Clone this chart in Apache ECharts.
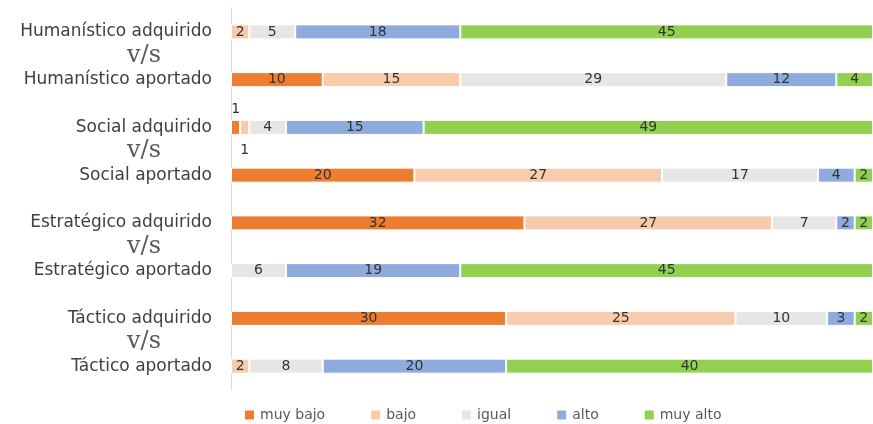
<!DOCTYPE html>
<html>
<head>
<meta charset="utf-8">
<script src="https://cdn.jsdelivr.net/npm/echarts@6/dist/echarts.min.js"></script>
<style>
html,body{margin:0;padding:0;background:#fff;}
#chart{width:873px;height:424px;}
</style>
</head>
<body>
<div id="chart"></div>
<script>
// Categories, top to bottom
var categories = [
  'Humanístico adquirido', 'Humanístico aportado',
  'Social adquirido', 'Social aportado',
  'Estratégico adquirido', 'Estratégico aportado',
  'Táctico adquirido', 'Táctico aportado'
];
// Separator labels drawn between each pair (half-step ticks)
var separatorLabels = ['', '', 'v/s', '', '', '', 'v/s', '', '', '', 'v/s', '', '', '', 'v/s', '', ''];

var seriesNames = ['muy bajo', 'bajo', 'igual', 'alto', 'muy alto'];
var muyBajo = [0, 10, 1, 20, 32, 0, 30, 0];
var bajo    = [2, 15, 1, 27, 27, 0, 25, 2];
var igual   = [5, 29, 4, 17, 7, 6, 10, 8];
var alto    = [18, 12, 15, 4, 2, 19, 3, 20];
var muyAlto = [45, 4, 49, 2, 2, 45, 2, 40];

var colors = ['#ED7D31', '#F8CBAD', '#E7E6E6', '#8FAADC', '#92D050'];
var values = [muyBajo, bajo, igual, alto, muyAlto];

var chart = echarts.init(document.getElementById('chart'));

function buildData(arr, si) {
  return arr.map(function (v) {
    if (v === 0) return null;
    var item = { value: v };
    // tiny segments: push label outside the bar
    if (v < 2 && si === 0) item.label = { position: 'top', distance: 4 };
    if (v < 2 && si === 1) item.label = { position: 'bottom', distance: 8 };
    return item;
  });
}

var series = seriesNames.map(function (name, si) {
  return {
    name: name,
    type: 'bar',
    stack: 'total',
    barWidth: 15,
    yAxisIndex: 0,
    itemStyle: { color: colors[si], borderColor: '#ffffff', borderWidth: 1 },
    label: {
      show: true,
      position: 'inside',
      color: '#333333',
      fontFamily: 'DejaVu Sans',
      fontSize: 14
    },
    data: buildData(values[si], si)
  };
});

chart.setOption({
  animation: false,
  backgroundColor: '#ffffff',
  color: colors,
  grid: { left: 231, top: 8, width: 644, height: 382, containLabel: false },
  xAxis: { type: 'value', min: 0, max: 70, show: false },
  yAxis: [
    {
      type: 'category',
      inverse: true,
      data: categories,
      axisLine: { show: true, lineStyle: { color: '#D9D9D9', width: 1 } },
      axisTick: { show: false },
      axisLabel: {
        margin: 19,
        color: '#404040',
        fontFamily: 'DejaVu Sans',
        fontSize: 17
      }
    },
    {
      type: 'category',
      position: 'left',
      inverse: true,
      boundaryGap: false,
      data: separatorLabels,
      axisLine: { show: false },
      axisTick: { show: false },
      axisLabel: {
        interval: 0,
        align: 'center',
        margin: 87,
        color: '#595959',
        fontFamily: 'DejaVu Serif',
        fontSize: 24
      }
    }
  ],
  legend: {
    left: 238,
    top: 403,
    itemWidth: 11,
    itemHeight: 11,
    itemGap: 44,
    icon: 'rect',
    textStyle: { color: '#595959', fontFamily: 'DejaVu Sans', fontSize: 14 },
    data: seriesNames
  },
  series: series
});
</script>
</body>
</html>
